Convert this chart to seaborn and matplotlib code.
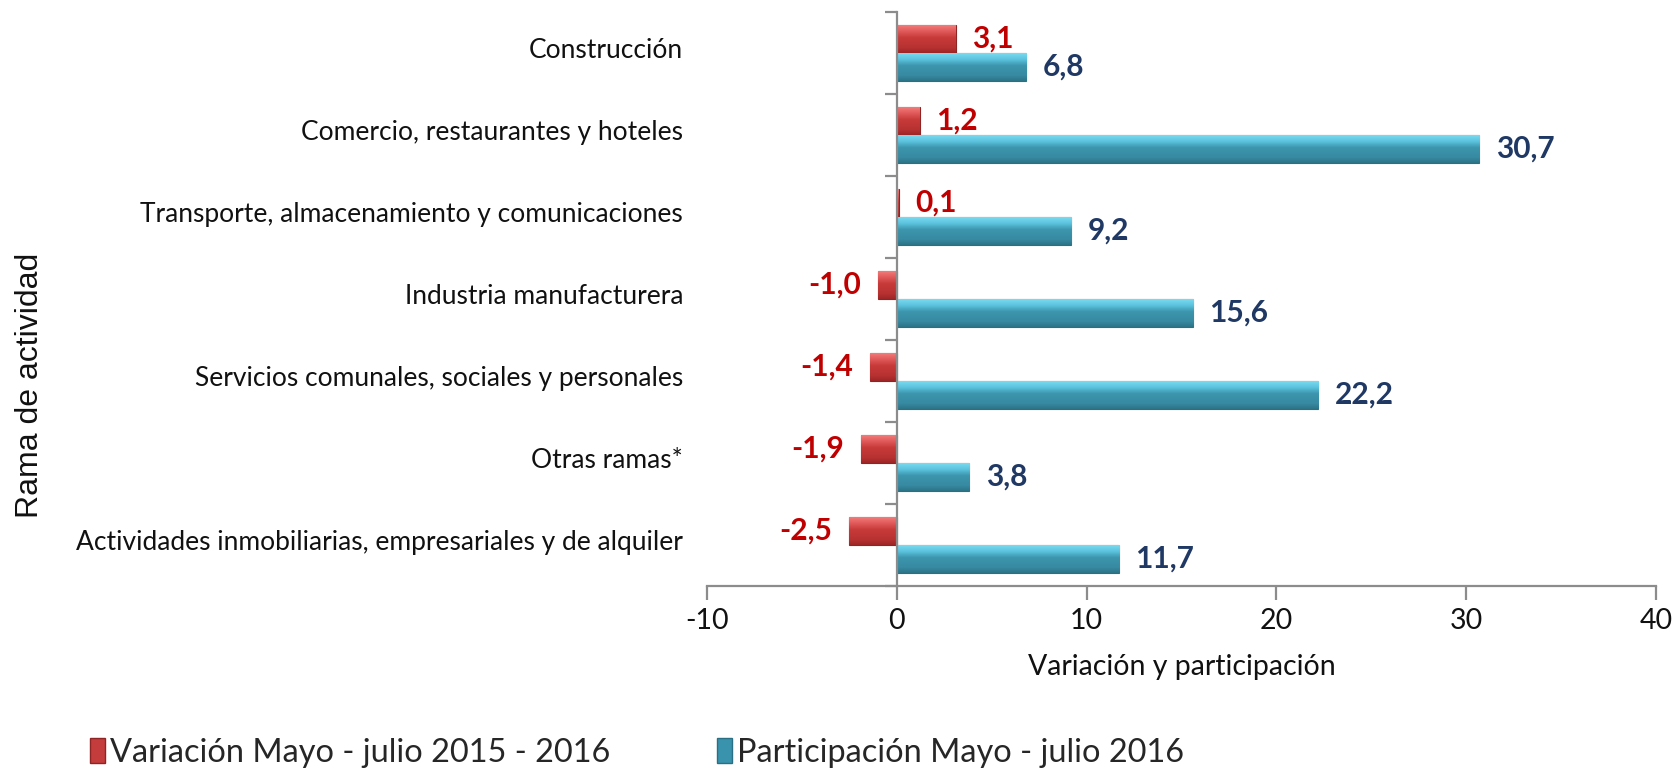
import matplotlib
matplotlib.use("Agg")
import matplotlib.pyplot as plt
import matplotlib.transforms as mtransforms
from matplotlib.colors import to_rgb
from matplotlib.patches import Patch
import seaborn as sns
import pandas as pd
import numpy as np

categories = [
    "Construcción",
    "Comercio, restaurantes y hoteles",
    "Transporte, almacenamiento y comunicaciones",
    "Industria manufacturera",
    "Servicios comunales, sociales y personales",
    "Otras ramas*",
    "Actividades inmobiliarias, empresariales y de alquiler",
]
variacion = [3.1, 1.2, 0.1, -1.0, -1.4, -1.9, -2.5]
participacion = [6.8, 30.7, 9.2, 15.6, 22.2, 3.8, 11.7]
series_names = ["Variación Mayo - julio 2015 - 2016", "Participación Mayo - julio 2016"]
x_ticks = [-10, 0, 10, 20, 30, 40]

sns.set_theme(style="white")
plt.rcParams["font.family"] = ["Lato", "DejaVu Sans"]

df = pd.DataFrame({
    "Rama": categories * 2,
    "Valor": variacion + participacion,
    "Serie": [series_names[0]] * len(categories) + [series_names[1]] * len(categories),
})

red = "#C43C3C"
blue = "#3A93AD"
# gradient stops (top -> bottom) for bevel-like look
grad = {
    0: ["#F27A7A", "#E05A5A", "#C83A3A", "#B83232", "#9E2626"],
    1: ["#7ADAF0", "#5CC3DE", "#3C95AD", "#378BA2", "#2C7488"],
}
fig = plt.figure(figsize=(16.74, 7.72), dpi=100)
ax = fig.add_axes([0.4223, 0.2409, 0.9892 - 0.4223, 0.9845 - 0.2409])

sns.barplot(data=df, y="Rama", x="Valor", hue="Serie", orient="h", order=categories,
            hue_order=series_names, palette=[red, blue], width=0.68, dodge=True,
            ax=ax, legend=False, saturation=1)

for k, (cont, col, edge) in enumerate(zip(ax.containers, ["#C00000", "#1F3864"], ["#8E2424", "#2A6F84"])):
    stops = [to_rgb(c) for c in grad[k]]
    pos = [0.0, 0.22, 0.45, 0.8, 1.0]
    t = np.linspace(0, 1, 64)
    arr = np.stack([np.interp(t, pos, [s[i] for s in stops]) for i in range(3)], axis=-1)[:, None, :]
    for p in cont:
        p.set_edgecolor(edge)
        p.set_linewidth(0.8)
        x0 = p.get_x()
        x1 = x0 + p.get_width()
        y0 = p.get_y()
        y1 = y0 + p.get_height()
        im = ax.imshow(arr, extent=(min(x0, x1), max(x0, x1), max(y0, y1), min(y0, y1)),
                       origin="upper", aspect="auto", interpolation="bilinear", zorder=p.get_zorder() + 0.1)
        im.set_clip_path(p)
    labels = [f"{p.get_width():.1f}".replace(".", ",") for p in cont]
    ax.bar_label(cont, labels=labels, padding=12, color=col, fontsize=21.5, fontweight="bold")

ax.set_xlim(-10, 40)
ax.set_ylim(len(categories) - 0.5, -0.5)
ax.set_aspect("auto")
ax.set_xticks(x_ticks)
ax.set_xticklabels([str(t) for t in x_ticks], fontsize=20.5, color="#111111")
ax.set_yticks(np.arange(-0.5, len(categories), 1.0))
ax.set_yticklabels([])

for s in ["top", "right"]:
    ax.spines[s].set_visible(False)
ax.spines["left"].set_position(("data", 0))
for s in ["left", "bottom"]:
    ax.spines[s].set_color("#8C8C8C")
    ax.spines[s].set_linewidth(1.6)
    ax.spines[s].set_zorder(5)
ax.tick_params(axis="y", direction="out", length=9, width=1.6, color="#8C8C8C", left=True)
ax.tick_params(axis="x", direction="out", length=10, width=1.6, color="#8C8C8C", bottom=True, pad=6)

trans = mtransforms.blended_transform_factory(ax.transAxes, ax.transData)
for i, c in enumerate(categories):
    ax.text(-0.025, i - 0.03, c, transform=trans, ha="right", va="center", fontsize=19, color="#111111")

ax.set_xlabel("Variación y participación", fontsize=20.5, color="#111111", labelpad=14)
ax.set_ylabel("")
fig.text(30 / 1674, 1 - 385 / 772, "Rama de actividad", rotation=90, ha="center", va="center",
         fontsize=23, color="#111111", family=["Liberation Sans", "DejaVu Sans"])

handles = [Patch(facecolor=red, edgecolor="#8E2424"), Patch(facecolor=blue, edgecolor="#2A6F84")]
fig.legend(handles, series_names, loc="center left", bbox_to_anchor=(0.046, 0.025), ncol=2,
           frameon=False, fontsize=23.4, handlelength=0.45, handleheight=0.8, handletextpad=0.15,
           columnspacing=3.3, borderaxespad=0)

fig.savefig("out.png", dpi=100)
